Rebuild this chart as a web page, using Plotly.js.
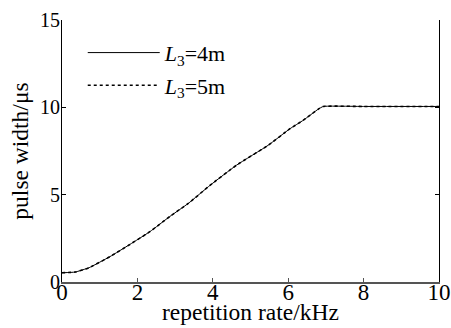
<!DOCTYPE html>
<html>
<head>
<meta charset="utf-8">
<script src="https://cdn.plot.ly/plotly-3.0.1.min.js"></script>
<style>html,body{margin:0;padding:0;background:#fff;}#chart{width:451px;height:328px;}</style>
</head>
<body>
<div id="chart"></div>
<script>
// repetition rate (kHz)
const rate = [0, 0.35, 0.72, 1.27, 1.80, 2.33, 2.86, 3.35, 3.93, 4.63, 5.47, 6.05, 6.4, 6.8, 6.93, 8, 10];
// pulse width (us), L3 = 4 m
const widthL4 = [0.53, 0.57, 0.82, 1.45, 2.15, 2.88, 3.75, 4.5, 5.54, 6.69, 7.83, 8.78, 9.26, 9.9, 10.05, 10.05, 10.05];
// pulse width (us), L3 = 5 m
const widthL5 = [0.53, 0.57, 0.82, 1.45, 2.15, 2.88, 3.75, 4.5, 5.54, 6.69, 7.83, 8.78, 9.26, 9.9, 10.05, 10.05, 10.05];
const seriesNames = ['<i>L</i><sub>3</sub>=4m', '<i>L</i><sub>3</sub>=5m'];
const xTicks = [0, 2, 4, 6, 8, 10];
const yTicks = [0, 5, 10, 15];
const xTitle = 'repetition rate/kHz';
const yTitle = 'pulse width/μs';

const font = "'Liberation Serif', 'Times New Roman', serif";

const traces = [
  {x: rate, y: widthL4, name: seriesNames[0], mode: 'lines', legendgroup: 'a',
   line: {color: '#000', width: 1, dash: 'solid', shape: 'spline', smoothing: 0.4}},
  {x: rate, y: widthL5, name: seriesNames[1], mode: 'lines', legendgroup: 'b',
   line: {color: '#000', width: 1.6, dash: 'dot', shape: 'spline', smoothing: 0.4}}
];

const layout = {
  width: 451, height: 328,
  margin: {l: 62, r: 12, t: 20, b: 46},
  paper_bgcolor: '#fff', plot_bgcolor: '#fff',
  font: {family: font, size: 22, color: '#000'},
  showlegend: true,
  legend: {x: 0.055, y: 0.955, xanchor: 'left', yanchor: 'top', bgcolor: 'rgba(0,0,0,0)',
           borderwidth: 0, font: {family: font, size: 22, color: '#000'},
           itemwidth: 72, tracegroupgap: 1, traceorder: 'grouped'},
  xaxis: {range: [0, 10], tickvals: xTicks, ticktext: xTicks.map(String),
          showgrid: false, zeroline: false, showline: true, linecolor: '#555', linewidth: 2,
          ticks: 'inside', ticklen: 4, tickcolor: '#555', ticklabelstandoff: -12,
          tickfont: {family: font, size: 23, color: '#000'}},
  yaxis: {range: [0, 15], tickvals: yTicks, ticktext: yTicks.map(String),
          showgrid: false, zeroline: false, showline: true, mirror: 'ticks', linecolor: '#000', linewidth: 1,
          ticks: 'inside', ticklen: 4, tickcolor: '#000', ticklabelstandoff: -3,
          tickfont: {family: font, size: 20, color: '#000'},
          title: {text: yTitle, font: {family: font, size: 23.5, color: '#000'}, standoff: 4}},
  annotations: [
    {text: xTitle, xref: 'paper', yref: 'paper', x: 0.5, y: -0.115, xanchor: 'center', yanchor: 'middle',
     showarrow: false, font: {family: font, size: 23.5, color: '#000'}}
  ]
};

Plotly.newPlot('chart', traces, layout, {staticPlot: true, displayModeBar: false});
</script>
</body>
</html>
